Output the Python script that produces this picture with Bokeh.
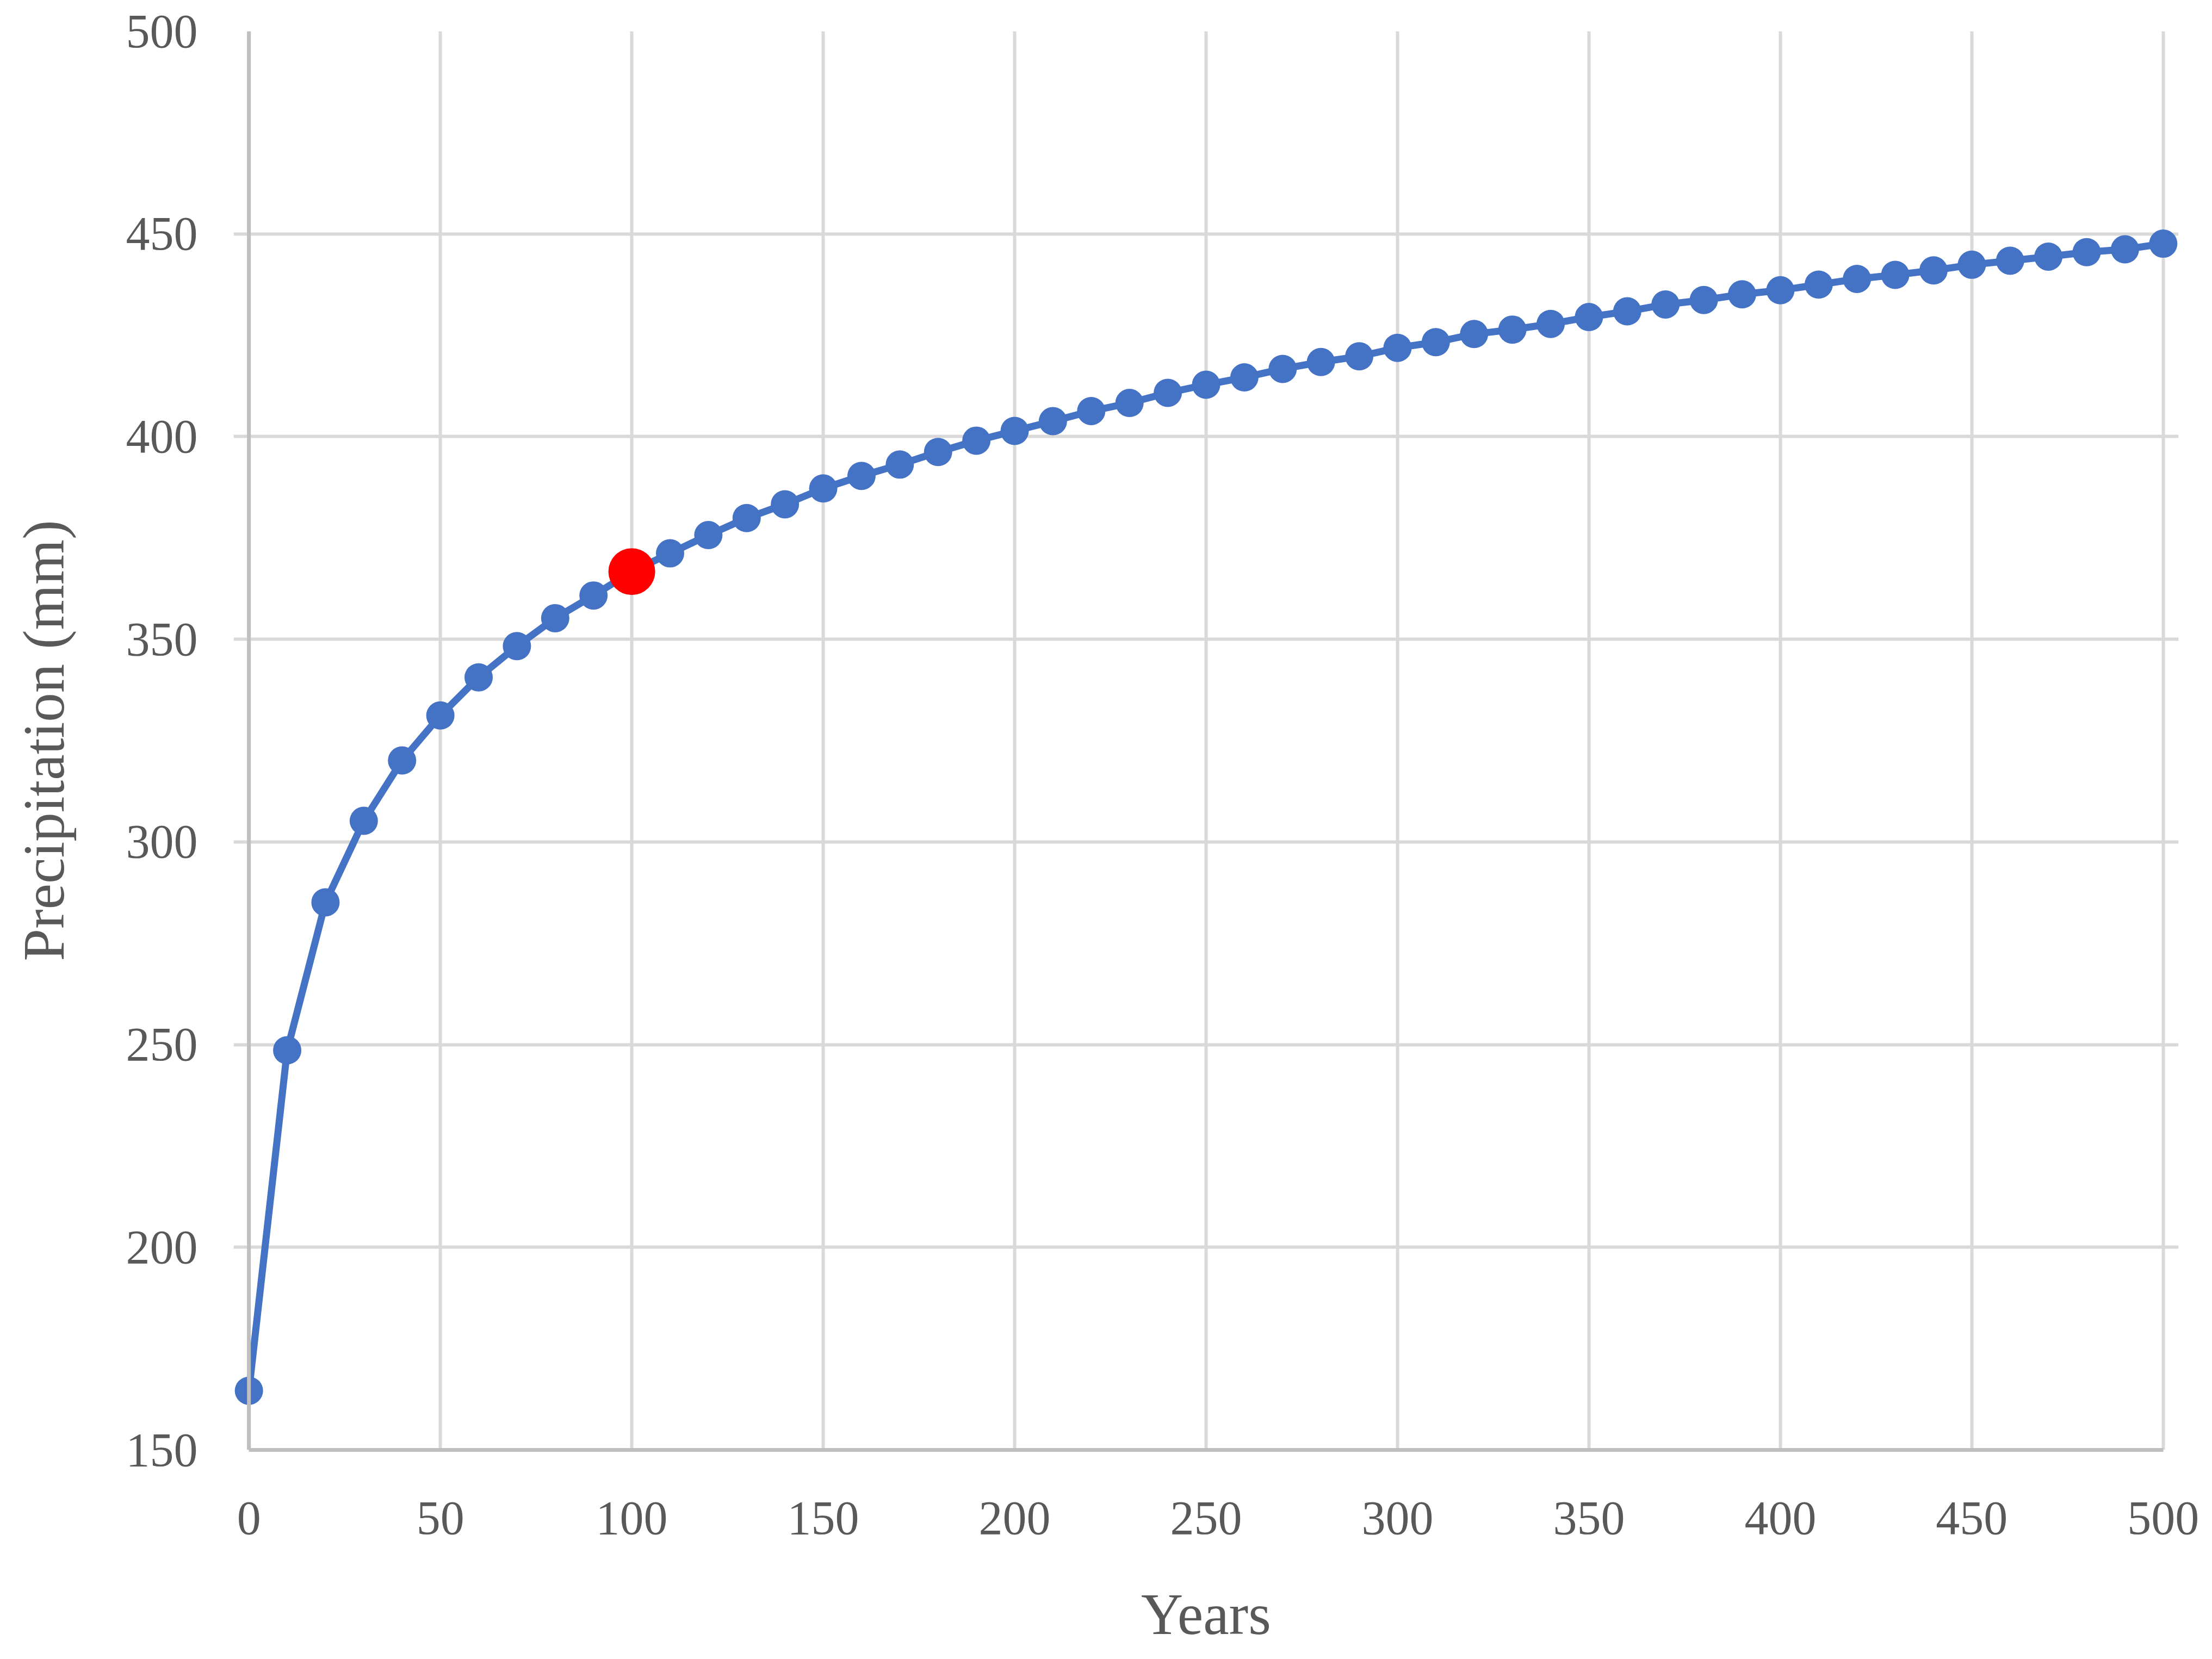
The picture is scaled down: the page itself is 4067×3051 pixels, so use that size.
from bokeh.plotting import figure
from bokeh.models import Range1d, SingleIntervalTicker, ColumnDataSource, Span
from bokeh.embed import file_html
from bokeh.resources import INLINE

years = [0, 10, 20, 30, 40, 50, 60, 70, 80, 90, 100, 110, 120, 130, 140, 150, 160, 170, 180, 190,
         200, 210, 220, 230, 240, 250, 260, 270, 280, 290, 300, 310, 320, 330, 340, 350, 360, 370,
         380, 390, 400, 410, 420, 430, 440, 450, 460, 470, 480, 490, 500]
precip = [164.6, 248.6, 285.1, 305.2, 320.1, 331.2, 340.6, 348.3, 355.2, 360.8, 366.7, 371.2,
          375.7, 379.9, 383.3, 387.2, 390.3, 393.1, 396.2, 399.0, 401.4, 403.8, 406.3, 408.3,
          410.8, 412.8, 414.6, 416.7, 418.4, 419.8, 421.9, 423.3, 425.3, 426.4, 427.8, 429.5,
          430.9, 432.6, 433.7, 435.1, 436.1, 437.5, 438.9, 439.9, 441.0, 442.4, 443.4, 444.4,
          445.5, 446.2, 447.6]
highlight_year = [100]
highlight_precip = [366.7]

x_title = "Years"
y_title = "Precipitation (mm)"

FONT = "Liberation Serif"
BLUE = "#4472C4"
X_MIN, X_MAX, Y_MIN, Y_MAX = 0, 500, 150, 500
PAD = 4  # room so the end markers are not clipped by the frame

p = figure(width=4050, height=3030, output_backend="svg", toolbar_location=None,
           x_range=Range1d(X_MIN - PAD, X_MAX + PAD), y_range=Range1d(Y_MIN, Y_MAX),
           min_border_left=429, min_border_right=45, min_border_top=57, min_border_bottom=358)
p.outline_line_color = None
p.background_fill_color = "white"
p.border_fill_color = "white"

p.xaxis.ticker = SingleIntervalTicker(interval=50)
p.yaxis.ticker = SingleIntervalTicker(interval=50)
for ax in (p.xaxis[0], p.yaxis[0]):
    ax.major_tick_line_color = None
    ax.minor_tick_line_color = None
    ax.major_tick_out = 0
    ax.major_tick_in = 0
    ax.minor_tick_out = 0
    ax.minor_tick_in = 0
    ax.major_label_text_font = FONT
    ax.major_label_text_font_size = "88px"
    ax.major_label_text_color = "#595959"
    ax.axis_label_text_font = FONT
    ax.axis_label_text_font_size = "107px"
    ax.axis_label_text_font_style = "normal"
    ax.axis_label_text_color = "#595959"

p.xaxis.bounds = (X_MIN, X_MAX)
p.xaxis.axis_line_color = "#bfbfbf"
p.xaxis.axis_line_width = 7
p.yaxis.axis_line_color = None

p.xaxis.axis_label = x_title
p.yaxis.axis_label = y_title
p.xaxis.major_label_standoff = 96
p.xaxis.axis_label_standoff = 86
p.yaxis.major_label_standoff = 66
p.yaxis.axis_label_standoff = 89

p.xgrid.grid_line_color = "#d9d9d9"
p.ygrid.grid_line_color = "#d9d9d9"
p.xgrid.grid_line_width = 6
p.ygrid.grid_line_width = 6
p.ygrid.bounds = (X_MIN, X_MAX)

p.add_layout(Span(location=X_MIN, dimension="height", line_color="#bfbfbf", line_width=7))

src = ColumnDataSource(dict(x=years, y=precip))
p.line("x", "y", source=src, line_color=BLUE, line_width=13)
p.scatter("x", "y", source=src, size=52, fill_color=BLUE, line_color=None)
p.scatter(highlight_year, highlight_precip, size=86, fill_color="#ff0000", line_color=None)

open("out.html", "w").write(file_html(p, INLINE))
